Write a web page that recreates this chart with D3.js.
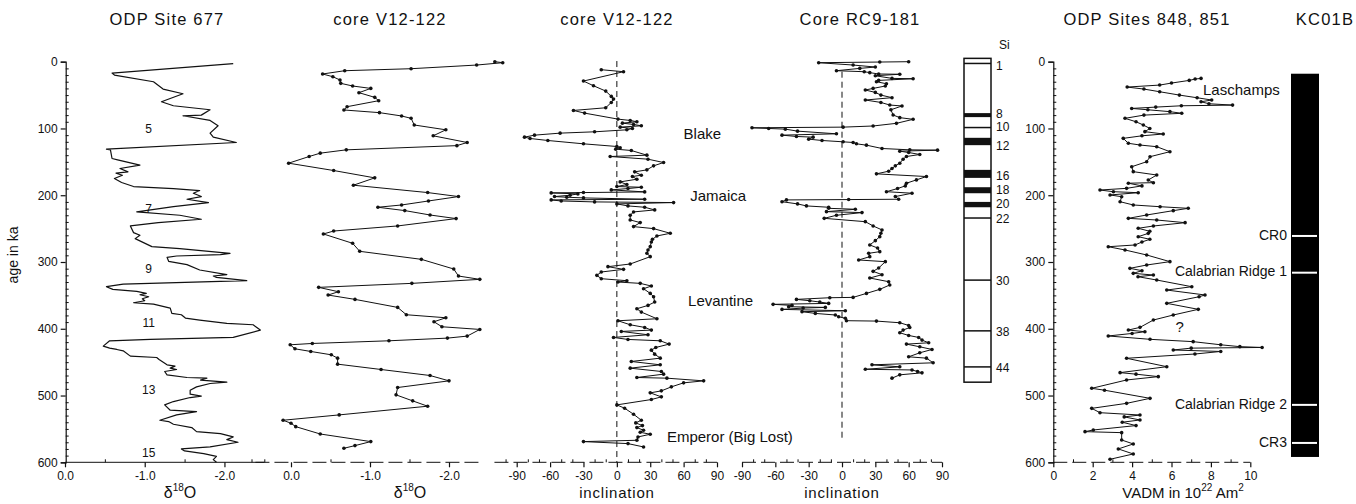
<!DOCTYPE html>
<html><head><meta charset="utf-8">
<script src="https://cdn.jsdelivr.net/npm/d3@7"></script>
<style>
body{margin:0;background:#fff;}
svg{display:block;font-family:"Liberation Sans",Arial,Helvetica,sans-serif;}
</style></head><body>
<svg id="chart" width="1356" height="504"></svg>
<script>
// ---------------- DATA ----------------
const titles = ["ODP Site 677","core V12-122","core V12-122","Core RC9-181","ODP Sites 848, 851","KC01B"];
const ageTicks = [0,100,200,300,400,500,600];
const d18OTicks = [0,-1,-2];
const d18OTickLabels = ["0.0","-1.0","-2.0"];
const incTicks = [-90,-60,-30,0,30,60,90];
const vadmTicks = [0,2,4,6,8,10];

// ODP 677 d18O  [age ka, d18O]
const odp677 = [[3,-2.11],[17,-0.59],[20,-0.62],[30,-1.11],[41,-1.23],[48,-1.48],[60,-1.21],[66,-1.36],[72,-1.82],[80,-1.71],[81,-1.48],[88,-1.82],[96,-1.92],[107,-1.82],[113,-1.86],[121,-2.15],[131,-0.52],[132,-0.57],[145,-0.59],[147,-0.66],[155,-0.94],[160,-0.69],[165,-0.79],[167,-0.64],[170,-0.72],[175,-0.62],[181,-0.71],[187,-0.86],[190,-1.36],[193,-1.69],[197,-1.61],[202,-1.71],[206,-1.53],[211,-1.80],[217,-1.36],[225,-0.90],[230,-1.44],[236,-1.71],[241,-1.17],[246,-0.82],[256,-0.86],[260,-0.94],[265,-0.88],[277,-1.09],[280,-1.44],[287,-2.07],[289,-1.95],[291,-1.40],[293,-1.28],[299,-1.30],[304,-1.53],[312,-1.69],[319,-2.03],[321,-1.86],[323,-1.90],[328,-2.28],[333,-0.73],[337,-0.52],[341,-0.60],[344,-0.90],[347,-1.02],[349,-0.94],[352,-1.05],[355,-0.97],[358,-1.00],[361,-0.86],[363,-1.11],[369,-1.32],[377,-1.34],[379,-1.46],[384,-1.51],[387,-1.69],[392,-2.03],[394,-2.36],[402,-2.45],[413,-2.11],[416,-1.07],[418,-0.56],[426,-0.48],[429,-0.56],[431,-0.65],[433,-0.73],[441,-0.82],[443,-1.15],[446,-1.18],[454,-1.28],[456,-1.38],[459,-1.32],[461,-1.40],[464,-1.25],[469,-1.28],[473,-1.53],[474,-1.78],[477,-1.70],[480,-2.03],[482,-1.82],[487,-1.65],[492,-1.57],[498,-1.57],[501,-1.71],[503,-1.57],[509,-1.36],[514,-1.25],[522,-1.32],[524,-1.65],[529,-1.40],[537,-1.19],[539,-1.30],[543,-1.36],[548,-1.59],[554,-1.65],[557,-1.95],[562,-2.11],[566,-2.03],[570,-2.17],[577,-1.82],[580,-1.46],[583,-1.50],[587,-1.74],[591,-1.90],[596,-1.86],[600,-1.90]];
const stageLabels = ["5","7","9","11","13","15"];
const stageAges = [102,222,312,392,493,587];

// V12-122 d18O
const v12d18O = [[0,-2.58],[1.5,-2.68],[5,-2.35],[10.5,-1.52],[13.5,-0.68],[18.4,-0.40],[22.5,-0.53],[27.4,-0.62],[32.4,-0.63],[36.4,-0.78],[40,-1.01],[46.4,-0.86],[53.4,-1.06],[58.4,-1.11],[67.4,-0.71],[72.3,-0.67],[76.3,-1.12],[81.3,-1.40],[84.8,-1.52],[94.8,-1.56],[102,-1.96],[111,-1.80],[121,-2.23],[125.7,-2.10],[132,-0.70],[137,-0.37],[142,-0.23],[152,0.03],[163,-0.54],[174,-1.06],[185,-0.79],[196,-1.73],[202,-2.12],[208.6,-1.74],[214.6,-1.40],[218,-1.10],[223,-1.44],[229.6,-1.76],[235,-2.09],[246,-1.35],[253.6,-0.54],[258,-0.41],[272,-0.78],[284,-0.87],[296,-1.65],[310.5,-2.06],[321,-2.12],[326,-2.39],[332,-1.53],[338,-0.35],[344.5,-0.60],[349.5,-0.47],[356,-0.81],[368,-1.35],[379,-1.46],[383.5,-1.96],[389.5,-1.81],[397,-1.91],[401,-2.39],[411,-2.23],[414,-1.98],[418,-1.24],[422,-0.27],[424,0.01],[430,-0.05],[434,-0.25],[439,-0.51],[444,-0.59],[453,-0.59],[461,-1.14],[470,-1.76],[478,-2.00],[488,-1.35],[499,-1.33],[508,-1.54],[516,-1.73],[529,-0.61],[537,0.10],[541.5,0.00],[546.6,-0.06],[557.6,-0.37],[569,-1.01],[575,-0.81],[579,-0.67]];

// V12-122 inclination
const v12inc = [[12,-14],[15,6],[29,-30],[36,-21],[44,-10],[52,-5],[56,-3],[61,-5],[69,-10],[73,-39],[77,-29],[86,1],[88,12],[90,18],[92,5],[94,15],[96,22],[98,3],[100,14],[102,9],[105,-20],[107,-51],[110,-74],[113,-83],[115,-78],[118,-62],[123,-30],[127,0],[129,3],[131,-1],[133,13],[140,27],[142,-6],[146,28],[151,42],[156,33],[162,27],[165,16],[170,22],[172,14],[176,18],[180,3],[184,9],[187,0],[188,22],[190,10],[192,-5],[195,25],[196,-30],[196.5,-59],[198,-35],[200,-42],[202,-56],[203,-45],[204,-30],[206,25],[207,-59],[208.6,-50],[210,-20],[211,51],[213,0],[216,10],[218,25],[222,34],[225,15],[230,12],[237,12],[241,21],[247,15],[250,33],[257,48],[261,36],[266,32],[270,31],[277,30],[282,28],[287,27],[292,30],[303,12],[307,-8],[311,6],[315,-14],[320,-18],[325,-14],[328,9],[330,1],[332,21],[336,31],[340,24],[347,30],[352,33],[360,34],[365,28],[370,18],[375,22],[385,36],[388,1],[394,12],[398,25],[402,31],[404,4],[409,28],[413,-3],[416,10],[418,39],[423,47],[428,35],[432,31],[438,34],[444,39],[449,13],[454,39],[459,12],[464,40],[468,42],[473,18],[474,45],[478,78],[481,60],[487,49],[493,40],[496,30],[502,40],[506,31],[514,0],[519,7],[528,15],[537,22],[541,17],[545,23],[548,18],[552,24],[555,21],[558,30],[562,19],[567,18],[569,-30],[572,10],[577,24]];
const eventLabels = ["Blake","Jamaica","Levantine","Emperor (Big Lost)"];
const eventAges = [110,203,360,563];
const eventInc = [60,66,64,45];

// RC9-181 inclination
const rc9inc = [[0,60],[0.5,34],[1.5,-21],[5,10],[8,30],[10,16],[13.5,-5],[15,20],[16.4,25],[18.4,33],[18.8,52],[21,30],[25,45],[25.5,64],[28,33],[30,31],[33,40],[36.4,39],[40,28],[42.4,21],[46,30],[50,35],[53.9,45],[57.4,21],[61,35],[64.9,43],[66.3,54],[72,44],[79.8,46],[83.8,52],[86.3,64],[92.3,49],[96.3,28],[98,1],[99,-81],[100,-66],[101,-51],[104,-40],[108,-5],[110,-54],[112,-41],[113,-26],[116,-30],[118,-18],[120,1],[121,10],[123,13],[125,22],[130,36],[132,61],[132.5,86],[134,52],[136,60],[139,70],[142,58],[146,55],[152,52],[156,48],[160,45],[164,42],[168,31],[172,76],[177,67],[182,58],[186,57],[190,50],[194.7,40],[197,63],[202,48],[206,51],[206.5,6],[207,-50],[209.7,-54],[213,-40],[216,-32],[218,-12],[219.6,-12],[221,12],[224.6,-14],[226,18],[230,-5],[234.6,-16],[239.6,21],[246,28],[252,36],[257,35],[262,34],[268,30],[274.5,25],[279,32],[284.5,34],[287,24],[292,25],[297,15],[299.5,39],[309,33],[314,28],[319,36],[324,25],[329.5,42],[334.4,43],[341,34],[347,22],[353,10],[353.5,-11],[356,-41],[358,-29],[360,-20],[362,-12],[363.4,-62],[365,-45],[367,-48],[368,-15],[369,-35],[371,-54],[373,3],[374.4,-36],[377,-24],[379.4,-6],[382,-3],[384.3,3],[387.9,4],[388.5,31],[391,52],[395,60],[398,61],[402,55],[406,52],[410,60],[413,69],[417,72],[421,78],[423,58],[427,70],[431,81],[436,70],[442,60],[444,76],[451,82],[454,27],[457,52],[460.7,21],[461.7,63],[464,68],[466,72],[469,52],[474,45]];

// ODP 848/851 VADM (1e22 Am2)
const vadm = [[25,7.5],[26,7.2],[28,6.9],[32,6.0],[35,5.4],[38,3.75],[41,4.6],[45,5.4],[50,6.4],[54,7.3],[57.4,8.04],[60,7.5],[63,7.9],[65,9.1],[66,6.5],[68,5.2],[70,3.98],[72,4.8],[74.8,5.92],[77.3,6.52],[80,4.6],[84.8,3.64],[90,4.2],[94.8,4.57],[100,4.9],[104.8,4.65],[108.3,5.58],[111,4.5],[114.8,3.55],[122.2,3.81],[124.8,4.40],[127.3,5.25],[134.8,5.92],[142.3,4.91],[149.8,4.74],[157.3,3.98],[164.7,4.06],[169.7,5.25],[177.2,4.82],[181.2,5.08],[182,3.81],[186,4.5],[189.7,3.72],[192.2,2.37],[194.7,3.05],[196.2,4.31],[199.6,2.88],[202.2,3.47],[209.7,3.39],[214.6,4.06],[217.2,5.42],[219.6,6.85],[223.1,6.09],[229.6,4.74],[234.6,3.81],[237.1,5.25],[241.1,6.69],[246.1,5.08],[249.5,4.31],[254,4.9],[257.1,4.82],[262.1,4.31],[266,4.9],[270,4.5],[274.5,4.15],[277.1,2.79],[282,3.64],[289.5,4.74],[299.5,5.92],[304.5,4.74],[309.5,3.89],[313,4.5],[317,4.06],[319.5,5.08],[322,4.3],[327,5.25],[337,7.03],[342,5.76],[349.4,7.70],[352,7.4],[361.9,5.76],[370.9,7.36],[379.4,6.09],[386.9,5.08],[397.9,4.40],[401.9,3.81],[404.4,4.65],[407,4.0],[410.8,2.79],[415.8,4.91],[419.3,7.1],[424,8.5],[426.8,9.47],[428,10.6],[429,7.0],[431.8,6.09],[434,8.5],[437.8,7.19],[444.2,3.72],[456.8,5.76],[465.7,3.39],[468,4.2],[471.7,5.33],[476.7,3.72],[489.2,1.95],[492,2.6],[504.2,4.91],[511.7,3.72],[519.2,1.95],[525.7,2.37],[529.2,4.40],[532,3.6],[536.6,4.40],[540,3.5],[545,4.2],[551.6,2.03],[554.1,1.61],[555.6,3.47],[566.6,3.47],[572.5,4.06],[580,3.30],[587.5,4.06],[595.5,2.88]];
const vadmLabels = ["Laschamps","?"];
const vadmLabelAges = [44,399];
const vadmLabelVals = [7.6,6.2];

// Sapropel column (Si)  [top age, bottom age]
const siRange = [-5,480];
const siBands = [[1.5,3],[77,83],[97.5,99.5],[114,125],[162,174],[188,197],[210,218],[233,235],[326,328],[402,404],[456,458]];
const siLabels = ["1","8","10","12","16","18","20","22","30","38","44"];
const siLabelAges = [7,80,99,128,172,194,215,237,330,406,460];

// KC01B column
const kcRange = [18,592];
const kcLabels = ["CR0","Calabrian Ridge 1","Calabrian Ridge 2","CR3"];
const kcAges = [261,316,514,571];

// ---------------- DRAW ----------------
const svg = d3.select("#chart");
const y = d3.scaleLinear().domain([0,600]).range([61.7,462.3]);
const x1 = d3.scaleLinear().domain([0,-2.5]).range([65,264.3]);
const x2 = d3.scaleLinear().domain([0,-2.5]).range([291,488.5]);
const x3 = d3.scaleLinear().domain([-90,90]).range([516.7,717]);
const x4 = d3.scaleLinear().domain([-90,90]).range([742,942]);
const x5 = d3.scaleLinear().domain([0,10]).range([1053.3,1250.3]);
const ink = "#111";

function yAxis(xpos){
  const g = svg.append("g").attr("transform",`translate(${xpos},0)`);
  g.call(d3.axisLeft(y).tickValues(ageTicks).tickSize(5).tickPadding(3));
  g.select(".domain").attr("stroke",ink).attr("stroke-width",1.2);
  g.selectAll(".tick line").attr("stroke",ink).attr("stroke-width",1.2);
  g.selectAll(".tick text").attr("font-size",12).attr("fill",ink).attr("font-family","Liberation Sans, Arial, sans-serif");
  g.append("g").call(d3.axisRight(y).tickValues(d3.range(10,600,10).filter(v=>v%100)).tickSize(3).tickFormat(""))
    .call(s=>s.select(".domain").remove()).selectAll("line").attr("stroke",ink);
}
function xAxis(scale, ticks, fmt, minor, lo, hi, dashed){
  const g = svg.append("g").attr("transform",`translate(0,${y(600)})`);
  g.append("line").attr("x1",scale(lo)).attr("x2",scale(hi)).attr("stroke",ink).attr("stroke-width",1)
   .attr("stroke-dasharray",dashed?"14,5":null);
  const ax = g.append("g").call(d3.axisBottom(scale).tickValues(ticks).tickSize(5).tickPadding(4).tickFormat(fmt));
  ax.select(".domain").remove();
  ax.selectAll(".tick line").attr("stroke",ink).attr("stroke-width",1.2);
  ax.selectAll(".tick text").attr("font-size",12).attr("fill",ink).attr("font-family","Liberation Sans, Arial, sans-serif");
  const mi = g.append("g").call(d3.axisTop(scale).tickValues(minor).tickSize(3).tickFormat(""));
  mi.select(".domain").remove();
  mi.selectAll("line").attr("stroke",ink);
}
function series(data, xs, dots, sw){
  const line = d3.line().x(d=>xs(d[1])).y(d=>y(d[0]));
  svg.append("path").datum(data).attr("d",line).attr("fill","none").attr("stroke",ink)
    .attr("stroke-width",sw).attr("stroke-linejoin","round");
  if(dots){
    svg.append("g").selectAll("circle").data(data).join("circle")
      .attr("cx",d=>xs(d[1])).attr("cy",d=>y(d[0])).attr("r",1.8).attr("fill",ink);
  }
}
function text(str, x, yy, size, anchor, extra){
  const t = svg.append("text").attr("x",x).attr("y",yy).attr("font-size",size).attr("fill",ink)
    .attr("text-anchor",anchor||"middle").attr("dominant-baseline","middle").text(str);
  if(extra) extra(t);
  return t;
}

// titles
const titleX = [167,390,617,860,1147,1325];
titles.forEach((t,i)=>text(t,titleX[i],21,16.5,"middle",s=>s.attr("letter-spacing",1.2)));

// y axes
yAxis(65.7);
yAxis(1053.3);
text("age in ka",0,0,14,"middle",s=>s.attr("transform","translate(14,255) rotate(-90)"));

// x axes
xAxis(x1, d18OTicks, (d,i)=>d18OTickLabels[i], [-0.5,-1.5,-2.5], 0, -2.5, false);
xAxis(x2, d18OTicks, (d,i)=>d18OTickLabels[i], [0.5,-0.5,-1.5], 0.45, -2.4, true);
xAxis(x3, incTicks, d=>d, d3.range(-100,91,10).filter(v=>v%30), -110, 90, true);
xAxis(x4, incTicks, d=>d, d3.range(-90,91,10).filter(v=>v%30), -90, 90, true);
xAxis(x5, vadmTicks, d=>d, [1,3,5,7,9], 0, 10, true);

// axis titles
function d18Label(cx){
  const t = svg.append("text").attr("x",cx).attr("y",494).attr("font-size",16).attr("fill",ink)
    .attr("text-anchor","middle").attr("dominant-baseline","middle");
  t.append("tspan").text("δ");
  t.append("tspan").attr("font-size",10).attr("dy",-6).text("18");
  t.append("tspan").attr("dy",6).text("O");
}
d18Label(180); d18Label(410);
text("inclination",617,494,15,"middle",s=>s.attr("letter-spacing",0.8));
text("inclination",842,494,15,"middle",s=>s.attr("letter-spacing",0.8));
{
  const t = svg.append("text").attr("x",1183).attr("y",494).attr("font-size",15).attr("fill",ink)
    .attr("text-anchor","middle").attr("dominant-baseline","middle");
  t.append("tspan").text("VADM in 10");
  t.append("tspan").attr("font-size",10).attr("dy",-6).text("22");
  t.append("tspan").attr("dy",6).text(" Am");
  t.append("tspan").attr("font-size",10).attr("dy",-6).text("2");
}

// zero lines
[[x3,-1,600],[x4,15,565]].forEach(([xs,a0,a1])=>{
  svg.append("line").attr("x1",xs(0)).attr("x2",xs(0)).attr("y1",y(a0)).attr("y2",y(a1))
    .attr("stroke",ink).attr("stroke-width",1).attr("stroke-dasharray","6,4");
});

// series
series(odp677, x1, false, 1.2);
series(v12d18O, x2, true, 1);
series(v12inc, x3, true, 1);
series(rc9inc, x4, true, 1);
series(vadm, x5, true, 1);

// stage labels
stageLabels.forEach((s,i)=>text(s,x1(-1.05),y(stageAges[i]),12,"middle"));
// event labels
eventLabels.forEach((s,i)=>text(s,x3(eventInc[i]),y(eventAges[i]),15,"start"));
vadmLabels.forEach((s,i)=>text(s,x5(vadmLabelVals[i]),y(vadmLabelAges[i]),15,"start"));

// Si column
const siX0 = 964, siW = 27;
svg.append("rect").attr("x",siX0).attr("y",y(siRange[0])).attr("width",siW)
  .attr("height",y(siRange[1])-y(siRange[0])).attr("fill","#fff").attr("stroke",ink).attr("stroke-width",1.5);
svg.append("g").selectAll("rect").data(siBands).join("rect")
  .attr("x",siX0).attr("width",siW).attr("y",d=>y(d[0])).attr("height",d=>Math.max(1.5,y(d[1])-y(d[0]))).attr("fill",ink);
text("Si",999,46,12,"start");
siLabels.forEach((s,i)=>text(s,996,y(siLabelAges[i]),12,"start"));

// KC01B column
svg.append("rect").attr("x",1291).attr("y",y(kcRange[0])).attr("width",28)
  .attr("height",y(kcRange[1])-y(kcRange[0])).attr("fill","#000");
svg.append("g").selectAll("line").data(kcAges).join("line")
  .attr("x1",1292).attr("x2",1317).attr("y1",d=>y(d)).attr("y2",d=>y(d)).attr("stroke","#fff").attr("stroke-width",2);
kcLabels.forEach((s,i)=>text(s,1287,y(kcAges[i]),14,"end"));
</script>
</body></html>
